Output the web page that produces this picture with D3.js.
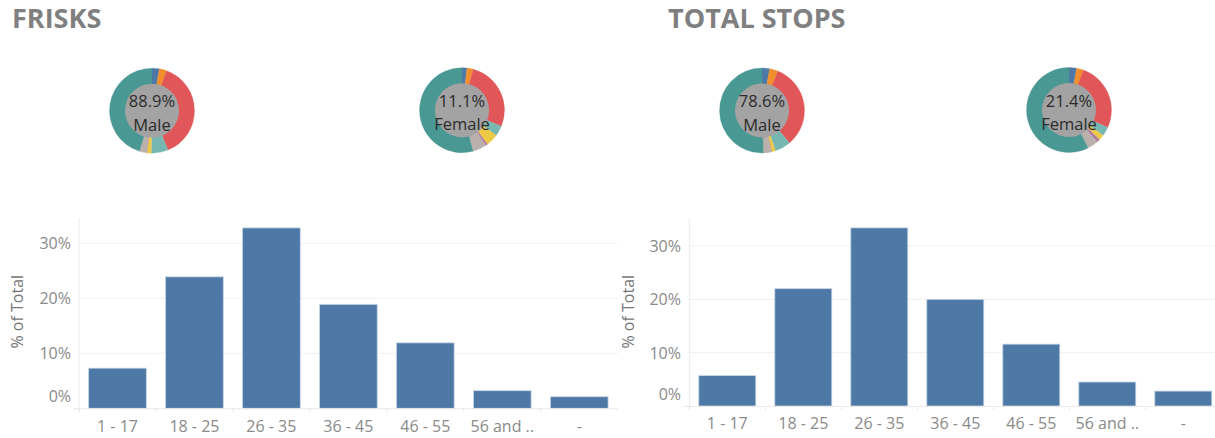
<!DOCTYPE html>
<html>
<head>
<meta charset="utf-8">
<script src="https://cdn.jsdelivr.net/npm/d3@7"></script>
<style>
  html, body { margin: 0; padding: 0; background: #fff; }
  svg { display: block; font-family: "Open Sans", sans-serif; }
</style>
</head>
<body>
<svg id="chart" width="1215" height="438"></svg>
<script>
// ---------- DATA ----------
const panelTitles = ["FRISKS", "TOTAL STOPS"];

// donut segments (clockwise from 12 o'clock), values in % of each donut
const segmentGroups = ["Group 1", "Group 2", "Group 3", "Group 4", "Group 5", "Group 6", "Group 7", "Group 8"];
const segmentColors = ["#4e79a7", "#f28e2b", "#e15759", "#76b7b2", "#edc948", "#b07aa1", "#bab0ac", "#499894"];
const frisksMaleSegments   = [2.8, 2.8, 38.3, 6.4, 1.7, 0.0, 2.8, 45.2];
const frisksFemaleSegments = [1.9, 2.4, 26.9, 3.9, 4.7, 0.8, 5.2, 54.2];
const stopsMaleSegments    = [2.9, 3.2, 32.7, 6.1, 1.5, 0.0, 3.1, 50.5];
const stopsFemaleSegments  = [2.9, 2.6, 26.3, 3.4, 2.1, 1.2, 4.1, 57.4];

const genderLabels = ["Male", "Female"];
const frisksGenderShare = ["88.9%", "11.1%"];
const stopsGenderShare  = ["78.6%", "21.4%"];

// bar charts
const ageGroups = ["1 - 17", "18 - 25", "26 - 35", "36 - 45", "46 - 55", "56 and ..", "-"];
const frisksAgePct = [7.3, 23.9, 32.8, 18.9, 11.9, 3.2, 2.1];
const stopsAgePct  = [5.7, 22.0, 33.4, 20.0, 11.6, 4.5, 2.8];
const yTickValues = [0, 10, 20, 30];
const yAxisTitle = "% of Total";

// ---------- DRAW ----------
const svg = d3.select("#chart");

// titles
const titleX = [12, 668];
panelTitles.forEach((t, i) => {
  svg.append("text")
    .attr("x", titleX[i]).attr("y", 28)
    .attr("font-size", 27).attr("font-weight", 700)
    .attr("fill", "#7f7f7f")
    .text(t);
});

// donuts
const donuts = [
  { cx: 152, cy: 110.7, values: frisksMaleSegments,   share: frisksGenderShare[0], label: genderLabels[0] },
  { cx: 462, cy: 110.2, values: frisksFemaleSegments, share: frisksGenderShare[1], label: genderLabels[1] },
  { cx: 762, cy: 110.5, values: stopsMaleSegments,    share: stopsGenderShare[0],  label: genderLabels[0] },
  { cx: 1069, cy: 110,  values: stopsFemaleSegments,  share: stopsGenderShare[1],  label: genderLabels[1] }
];
const pie = d3.pie().sort(null).value(d => d.v);
const arc = d3.arc().innerRadius(26).outerRadius(42.5);
const color = d3.scaleOrdinal().domain(segmentGroups).range(segmentColors);

donuts.forEach(d => {
  const g = svg.append("g").attr("transform", `translate(${d.cx},${d.cy})`);
  const data = d.values.map((v, i) => ({ k: segmentGroups[i], v }));
  g.selectAll("path").data(pie(data)).join("path")
    .attr("d", arc)
    .attr("fill", p => color(p.data.k))
    .attr("stroke", p => color(p.data.k))
    .attr("stroke-width", 0.3);
  g.append("circle").attr("r", 27).attr("fill", "#a3a3a3");
  g.append("text").attr("text-anchor", "middle").attr("y", -10)
    .attr("dominant-baseline", "central")
    .attr("font-size", 16.5).attr("fill", "#2b2b2b").text(d.share);
  g.append("text").attr("text-anchor", "middle").attr("y", 13.5)
    .attr("dominant-baseline", "central")
    .attr("font-size", 16.5).attr("fill", "#2b2b2b").text(d.label);
});

// bar charts
const barPanels = [
  { values: frisksAgePct, xRange: [79, 617.7], y0: 408.3, yTop: 218, yMaxPx: 243.3, titleX: 17, tickRight: 71, xLabelY: 426, axisLeft: 73 },
  { values: stopsAgePct,  xRange: [689.3, 1221.3], y0: 406, yTop: 218, yMaxPx: 246, titleX: 628, tickRight: 681, xLabelY: 423, axisLeft: 683 }
];

barPanels.forEach(p => {
  const x = d3.scaleBand().domain(ageGroups).range(p.xRange).paddingInner(0.25).paddingOuter(0.125);
  const pxPer = (p.y0 - p.yMaxPx) / 30;
  const yMax = (p.y0 - p.yTop) / pxPer;
  const y = d3.scaleLinear().domain([0, yMax]).range([p.y0, p.yTop]);
  const right = Math.min(p.xRange[1], 1215);

  const g = svg.append("g");
  // gridlines
  g.selectAll("line.grid").data(yTickValues.filter(v => v > 0)).join("line")
    .attr("class", "grid")
    .attr("x1", p.xRange[0]).attr("x2", right)
    .attr("y1", v => y(v)).attr("y2", v => y(v))
    .attr("stroke", "#f0f0f0").attr("stroke-width", 1);

  // bars
  g.selectAll("rect.bar").data(ageGroups).join("rect")
    .attr("class", "bar")
    .attr("x", c => x(c))
    .attr("width", x.bandwidth())
    .attr("y", (c, i) => y(p.values[i]))
    .attr("height", (c, i) => y(0) - y(p.values[i]))
    .attr("fill", "#4e79a7")
    .attr("stroke", "#c9d6e6").attr("stroke-width", 0.8);

  // baseline / zero line
  g.append("line")
    .attr("x1", p.axisLeft).attr("x2", right)
    .attr("y1", y(0) + 0.5).attr("y2", y(0) + 0.5)
    .attr("stroke", "#e8e8e8");
  // vertical axis line
  g.append("line")
    .attr("x1", p.xRange[0]).attr("x2", p.xRange[0])
    .attr("y1", p.yTop).attr("y2", y(0) + 4)
    .attr("stroke", "#ececec");

  // x axis
  const xAxis = d3.axisBottom(x).tickSize(0).tickPadding(0);
  const xg = g.append("g").attr("transform", `translate(0,${p.xLabelY})`).call(xAxis);
  xg.select(".domain").remove();
  xg.selectAll("text")
    .attr("dy", "0.35em").attr("y", 0)
    .attr("font-size", 16).attr("font-family", "Open Sans, sans-serif")
    .attr("fill", "#8a8a8a");
  // boundary ticks
  const bounds = ageGroups.map(c => x(c) - x.step() * x.paddingInner() / 2);
  g.selectAll("line.btick").data(bounds).join("line")
    .attr("class", "btick")
    .attr("x1", b => b).attr("x2", b => b)
    .attr("y1", y(0)).attr("y2", y(0) + 4)
    .attr("stroke", "#e8e8e8");

  // y axis
  const yAxis = d3.axisLeft(y).tickValues(yTickValues).tickSize(0).tickPadding(0)
    .tickFormat(v => v + "%");
  const yg = g.append("g").attr("transform", `translate(${p.tickRight},0)`).call(yAxis);
  yg.select(".domain").remove();
  yg.selectAll("text")
    .attr("x", 0)
    .attr("font-size", 16).attr("font-family", "Open Sans, sans-serif")
    .attr("fill", "#8a8a8a")
    .attr("dy", v => v === 0 ? "-0.4em" : "0.35em");

  // y title
  g.append("text")
    .attr("transform", `translate(${p.titleX},311.7) rotate(-90)`)
    .attr("text-anchor", "middle").attr("dominant-baseline", "central")
    .attr("font-size", 16).attr("fill", "#777")
    .text(yAxisTitle);
});
</script>
</body>
</html>
